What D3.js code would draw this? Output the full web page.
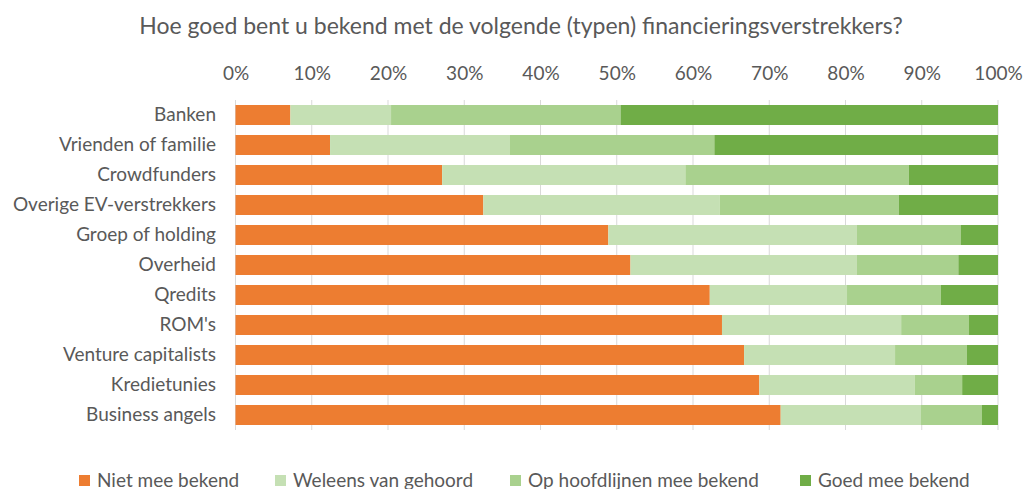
<!DOCTYPE html>
<html>
<head>
<meta charset="utf-8">
<script src="https://cdn.jsdelivr.net/npm/d3@7"></script>
<style>
  body { margin: 0; background: #fff; }
  text { font-family: Lato, "Open Sans", sans-serif; font-weight: 400; fill: #595959; }
</style>
</head>
<body>
<div id="chart"></div>
<script>
// categories (top to bottom)
const categories = ["Banken", "Vrienden of familie", "Crowdfunders", "Overige EV-verstrekkers",
  "Groep of holding", "Overheid", "Qredits", "ROM's", "Venture capitalists", "Kredietunies", "Business angels"];

// series values in percent
const nietMeeBekend = [7.2, 12.4, 27.1, 32.5, 48.9, 51.8, 62.2, 63.8, 66.7, 68.7, 71.5];
const weleensVanGehoord = [13.2, 23.6, 31.9, 31.0, 32.6, 29.7, 18.0, 23.5, 19.8, 20.4, 18.4];
const opHoofdlijnen = [30.1, 26.8, 29.3, 23.5, 13.6, 13.3, 12.3, 8.9, 9.4, 6.2, 8.0];
const goedMeeBekend = [49.5, 37.2, 11.7, 13.0, 4.9, 5.2, 7.5, 3.8, 4.1, 4.7, 2.1];

const seriesNames = ["Niet mee bekend", "Weleens van gehoord", "Op hoofdlijnen mee bekend", "Goed mee bekend"];
const colors = ["#ED7D31", "#C5E0B4", "#A9D18E", "#70AD47"];
const tickValues = [0, 10, 20, 30, 40, 50, 60, 70, 80, 90, 100];

// build table for d3.stack
const table = categories.map((c, i) => ({
  cat: c,
  "Niet mee bekend": nietMeeBekend[i],
  "Weleens van gehoord": weleensVanGehoord[i],
  "Op hoofdlijnen mee bekend": opHoofdlijnen[i],
  "Goed mee bekend": goedMeeBekend[i]
}));

const svgWidth = 1024, svgHeight = 489;
const svg = d3.select("#chart").append("svg")
  .attr("width", svgWidth)
  .attr("height", svgHeight);

const x = d3.scaleLinear().domain([0, 100]).range([235.5, 998]);
const y = d3.scaleBand().domain(categories).range([100, 430]).paddingInner(1 / 3).paddingOuter(1 / 6);

// title
svg.append("text")
  .attr("x", 521).attr("y", 33.5)
  .attr("text-anchor", "middle")
  .style("font-size", "23px")
  .text("Hoe goed bent u bekend met de volgende (typen) financieringsverstrekkers?");

// gridlines
svg.append("g").selectAll("line")
  .data(tickValues)
  .enter().append("line")
  .attr("x1", d => x(d)).attr("x2", d => x(d))
  .attr("y1", 100).attr("y2", 430)
  .attr("stroke", "#D9D9D9")
  .attr("stroke-width", 1);

// top axis labels
const xAxis = svg.append("g")
  .attr("transform", "translate(0,79.5)")
  .call(d3.axisTop(x).tickValues(tickValues).tickFormat(d => d + "%").tickSize(0).tickPadding(0));
xAxis.select(".domain").remove();
xAxis.selectAll("text").style("font-size", "19px").attr("fill", "#595959").attr("font-family", null);

// stacked bars
const stack = d3.stack().keys(seriesNames);
const layers = stack(table);

svg.append("g").selectAll("g")
  .data(layers)
  .enter().append("g")
  .attr("fill", (d, i) => colors[i])
  .selectAll("rect")
  .data(d => d)
  .enter().append("rect")
  .attr("x", d => x(d[0]))
  .attr("y", d => y(d.data.cat))
  .attr("width", d => x(d[1]) - x(d[0]))
  .attr("height", y.bandwidth());

// category labels
const yAxis = svg.append("g")
  .attr("transform", "translate(216,0)")
  .call(d3.axisLeft(y).tickSize(0).tickPadding(0));
yAxis.select(".domain").remove();
yAxis.selectAll("text").style("font-size", "19px").attr("fill", "#595959").attr("font-family", null);

// legend
const legendX = [79, 275, 510, 800];
const legend = svg.append("g").selectAll("g")
  .data(seriesNames)
  .enter().append("g")
  .attr("transform", (d, i) => `translate(${legendX[i]},0)`);
legend.append("rect")
  .attr("x", 0).attr("y", 475)
  .attr("width", 11).attr("height", 11)
  .attr("fill", (d, i) => colors[i]);
legend.append("text")
  .attr("x", 18).attr("y", 487)
  .style("font-size", "19px")
  .text(d => d);
</script>
</body>
</html>
